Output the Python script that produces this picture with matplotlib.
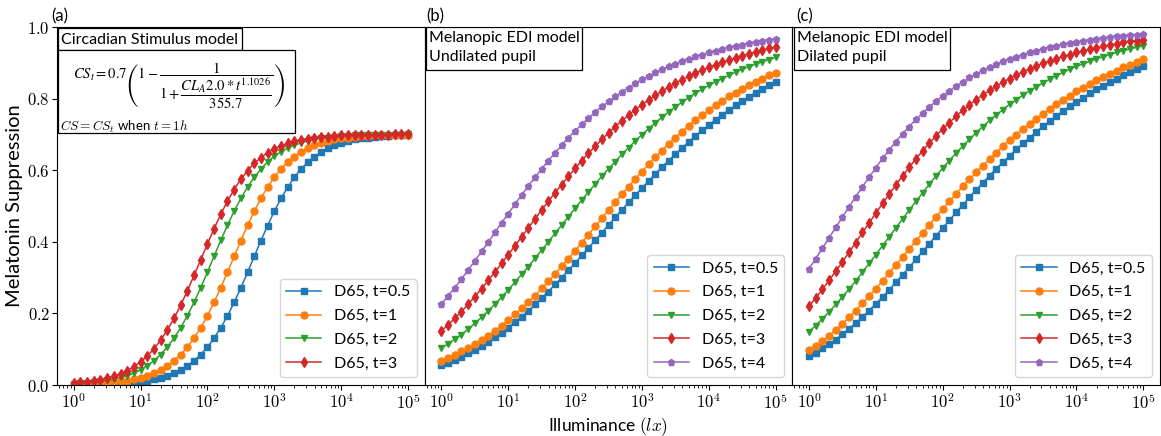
import numpy as np
import matplotlib
matplotlib.use("Agg")
import matplotlib.pyplot as plt
from matplotlib.patches import Rectangle
from matplotlib.ticker import FuncFormatter, LogLocator, NullFormatter, FixedLocator

plt.rcParams['mathtext.fontset'] = 'cm'
plt.rcParams['font.family'] = ['Lato', 'DejaVu Sans']

# Illuminance grid (lx), 10 points per decade
illuminance = [1, 1.259, 1.585, 1.995, 2.512, 3.162, 3.981, 5.012, 6.310, 7.943,
               10, 12.59, 15.85, 19.95, 25.12, 31.62, 39.81, 50.12, 63.10, 79.43,
               100, 125.9, 158.5, 199.5, 251.2, 316.2, 398.1, 501.2, 631.0, 794.3,
               1000, 1259, 1585, 1995, 2512, 3162, 3981, 5012, 6310, 7943,
               10000, 12589, 15849, 19953, 25119, 31623, 39811, 50119, 63096, 79433,
               100000]

# Melatonin suppression x1000
# (a) Circadian Stimulus model
cs_t05 = [1, 1, 1, 2, 2, 3, 4, 5, 6, 8, 10, 12, 16, 20, 26, 33, 42, 54, 68, 85,
          106, 131, 160, 193, 231, 271, 315, 359, 403, 445, 485, 521, 552, 580, 603, 622, 638,
          651, 661, 670, 676, 681, 686, 689, 691, 693, 695, 696, 697, 698, 698]
cs_t1 = [2, 2, 3, 4, 5, 6, 8, 10, 12, 16, 20, 26, 33, 42, 54, 68, 85, 106, 131, 160,
         194, 231, 272, 315, 359, 403, 446, 485, 521, 553, 580, 603, 623, 638, 651, 662, 670,
         676, 682, 686, 689, 691, 693, 695, 696, 697, 698, 698, 699, 699, 699]
cs_t2 = [4, 5, 6, 8, 10, 13, 16, 21, 26, 33, 43, 54, 68, 85, 106, 131, 160, 194, 231, 272,
         315, 360, 404, 446, 486, 521, 553, 580, 603, 623, 639, 651, 662, 670, 676, 682, 686,
         689, 691, 693, 695, 696, 697, 698, 698, 699, 699, 699, 699, 699, 700]
cs_t3 = [6, 7, 9, 12, 15, 19, 25, 32, 40, 51, 65, 81, 101, 125, 154, 186, 223, 263, 306, 350,
         394, 437, 477, 514, 546, 575, 599, 619, 635, 649, 660, 668, 675, 681, 685, 688, 691,
         693, 694, 696, 697, 697, 698, 698, 699, 699, 699, 699, 700, 700, 700]

# (b) Melanopic EDI model, undilated pupil
und_t05 = [55, 62, 70, 78, 88, 98, 108, 120, 133, 146, 160, 175, 191, 207, 225, 243, 261, 281,
           300, 320, 341, 362, 383, 404, 425, 447, 468, 489, 510, 530, 550, 570, 590, 609, 627,
           645, 662, 679, 696, 711, 726, 741, 755, 768, 781, 794, 805, 817, 827, 838, 847]
und_t1 = [68, 76, 84, 94, 104, 114, 126, 138, 152, 166, 181, 197, 214, 232, 250, 270, 290, 310,
          332, 353, 375, 398, 420, 443, 466, 488, 511, 533, 554, 576, 596, 617, 636, 655, 674,
          691, 708, 724, 740, 754, 768, 782, 794, 806, 817, 828, 838, 847, 856, 865, 872]
und_t2 = [103, 115, 128, 141, 156, 172, 189, 207, 226, 245, 266, 287, 309, 331, 354, 377, 400,
          424, 447, 470, 494, 517, 539, 561, 583, 604, 624, 644, 663, 682, 699, 716, 732, 748,
          763, 777, 790, 803, 815, 826, 837, 847, 856, 865, 874, 882, 889, 896, 903, 909, 915]
und_t3 = [151, 168, 186, 205, 226, 247, 269, 292, 315, 340, 364, 389, 414, 439, 464, 489, 513,
          537, 560, 583, 605, 627, 647, 667, 686, 704, 722, 738, 754, 769, 783, 796, 809, 821,
          832, 843, 853, 862, 871, 879, 887, 895, 902, 908, 914, 920, 925, 931, 935, 940, 944]
und_t4 = [226, 249, 272, 296, 321, 347, 373, 399, 426, 453, 479, 505, 531, 556, 580, 604, 627,
          649, 670, 691, 710, 728, 746, 762, 778, 792, 806, 819, 831, 843, 854, 864, 873, 882,
          890, 897, 905, 911, 918, 923, 929, 934, 939, 943, 947, 951, 954, 958, 961, 964, 967]

# (c) Melanopic EDI model, dilated pupil
dil_t05 = [80, 90, 102, 114, 127, 142, 157, 173, 190, 208, 227, 246, 266, 287, 308, 329, 351,
           373, 395, 417, 439, 460, 482, 503, 524, 545, 565, 585, 604, 622, 640, 658, 675, 691,
           707, 723, 737, 751, 765, 778, 791, 803, 815, 826, 836, 846, 856, 865, 874, 883, 891]
dil_t1 = [97, 110, 123, 138, 154, 171, 189, 208, 228, 248, 269, 291, 313, 335, 357, 380, 403,
          425, 447, 470, 491, 513, 534, 555, 575, 594, 613, 631, 649, 667, 683, 699, 715, 730,
          744, 758, 771, 784, 796, 808, 820, 831, 841, 851, 861, 870, 878, 887, 895, 902, 910]
dil_t2 = [149, 166, 185, 204, 225, 246, 268, 291, 315, 340, 364, 389, 414, 439, 464, 489, 513,
          537, 561, 584, 606, 627, 648, 667, 686, 705, 722, 739, 754, 769, 784, 797, 810, 822,
          833, 844, 854, 864, 873, 882, 890, 897, 904, 911, 917, 923, 929, 934, 939, 943, 948]
dil_t3 = [220, 243, 267, 292, 318, 344, 371, 398, 426, 453, 480, 507, 533, 559, 584, 608, 632,
          654, 675, 696, 715, 733, 751, 767, 782, 797, 810, 823, 835, 846, 856, 866, 875, 883,
          891, 899, 905, 912, 918, 923, 929, 933, 938, 942, 946, 950, 953, 957, 960, 962, 965]
dil_t4 = [325, 353, 382, 411, 440, 469, 498, 526, 554, 581, 607, 633, 657, 680, 702, 722, 742,
          760, 777, 793, 808, 822, 835, 847, 859, 869, 879, 888, 896, 904, 911, 917, 923, 929,
          934, 939, 944, 948, 952, 955, 958, 961, 964, 967, 969, 972, 974, 976, 977, 979, 981]

labels = ['D65, t=0.5', 'D65, t=1', 'D65, t=2', 'D65, t=3', 'D65, t=4']
markers = ['s', 'o', 'v', 'd', 'p']
colors = ['tab:blue', 'tab:orange', 'tab:green', 'tab:red', 'tab:purple']

panels = [[cs_t05, cs_t1, cs_t2, cs_t3],
          [und_t05, und_t1, und_t2, und_t3, und_t4],
          [dil_t05, dil_t1, dil_t2, dil_t3, dil_t4]]

# layout in reference pixels
W_PX, H_PX = 1161, 436
AX_L = [57, 424.7, 792.3]
AX_W = 367.7
TOP, BOT = 27, 385

fig = plt.figure(figsize=(W_PX / 100, H_PX / 100), dpi=100)
axes = [fig.add_axes([l / W_PX, (H_PX - BOT) / H_PX, AX_W / W_PX, (BOT - TOP) / H_PX]) for l in AX_L]


def px(k, x, y):
    # reference pixel -> axes fraction of panel k
    return (x - AX_L[k]) / AX_W, (BOT - y) / (BOT - TOP)


for k, (ax, series) in enumerate(zip(axes, panels)):
    for i, s in enumerate(series):
        ax.plot(illuminance, np.array(s) / 1000, marker=markers[i], color=colors[i],
                ms=5, lw=1.1, label=labels[i])
    ax.set_xscale('log')
    ax.set_xlim(10 ** -0.25, 10 ** 5.25)
    ax.set_ylim(0, 1)
    ax.xaxis.set_major_locator(FixedLocator([1, 10, 100, 1e3, 1e4, 1e5]))
    ax.xaxis.set_major_formatter(FuncFormatter(lambda v, p: r'$10^{%d}$' % round(np.log10(v))))
    ax.xaxis.set_minor_locator(LogLocator(base=10, subs=np.arange(2, 10), numticks=100))
    ax.xaxis.set_minor_formatter(NullFormatter())
    ax.tick_params(axis='both', labelsize=12)
    ax.tick_params(axis='x', pad=2)
    if k == 0:
        ax.set_yticks([0, 0.2, 0.4, 0.6, 0.8, 1.0])
        ax.yaxis.set_major_formatter(FuncFormatter(lambda v, p: r'$%.1f$' % v))
        ax.tick_params(axis='y', pad=1.5)
        ax.set_ylabel('Melatonin Suppression', fontsize=14.5, labelpad=3)
    else:
        ax.tick_params(axis='y', left=False, labelleft=False)
    ax.legend(loc='lower right', fontsize=11.5, labelspacing=0.6, handlelength=2.2)

for k, lab, x0 in [(0, '(a)', 51), (1, '(b)', 426), (2, '(c)', 796)]:
    axes[k].text(*px(k, x0, 21), lab, transform=axes[k].transAxes, fontsize=12,
                 ha='left', va='baseline')

axes[1].set_xlabel(r'Illuminance $(lx)$', fontsize=12.5, labelpad=2)

# text boxes in panel (a)
ax = axes[0]
x0, y0 = px(0, 58, 50)
x1, y1 = px(0, 242, 28)
ax.add_patch(Rectangle((x0, y0), x1 - x0, y1 - y0, transform=ax.transAxes,
                       fc='white', ec='black', lw=0.9, zorder=5))
ax.text(*px(0, 61, 39.5), 'Circadian Stimulus model', transform=ax.transAxes,
        fontsize=11.5, ha='left', va='center', zorder=6)
x0, y0 = px(0, 58, 133)
x1, y1 = px(0, 295, 50)
ax.add_patch(Rectangle((x0, y0), x1 - x0, y1 - y0, transform=ax.transAxes,
                       fc='white', ec='black', lw=0.9, zorder=5))
ax.text(*px(0, 179, 86), r'$CS_t = 0.7\left(1-\dfrac{1}{1+\dfrac{CL_A2.0*t^{1.1026}}{355.7}}\right)$',
        transform=ax.transAxes, fontsize=10.5, ha='center', va='center', zorder=6,
        math_fontfamily='stix')
ax.text(*px(0, 60, 127), r'$CS = CS_t$ when $t = 1h$', transform=ax.transAxes,
        fontsize=9.5, ha='left', va='center', zorder=6)

# text boxes in panels (b) and (c)
for k, sub in [(1, 'Undilated pupil'), (2, 'Dilated pupil')]:
    ax = axes[k]
    l = AX_L[k] + 1.5
    x0, y0 = px(k, l, 70)
    x1, y1 = px(k, l + 156, 27.5)
    ax.add_patch(Rectangle((x0, y0), x1 - x0, y1 - y0, transform=ax.transAxes,
                           fc='white', ec='black', lw=0.9, zorder=5))
    ax.text(*px(k, l + 3, 38), 'Melanopic EDI model', transform=ax.transAxes,
            fontsize=11.5, ha='left', va='center', zorder=6)
    ax.text(*px(k, l + 3, 57), sub, transform=ax.transAxes,
            fontsize=11.5, ha='left', va='center', zorder=6)

fig.savefig('out.png', dpi=100)
